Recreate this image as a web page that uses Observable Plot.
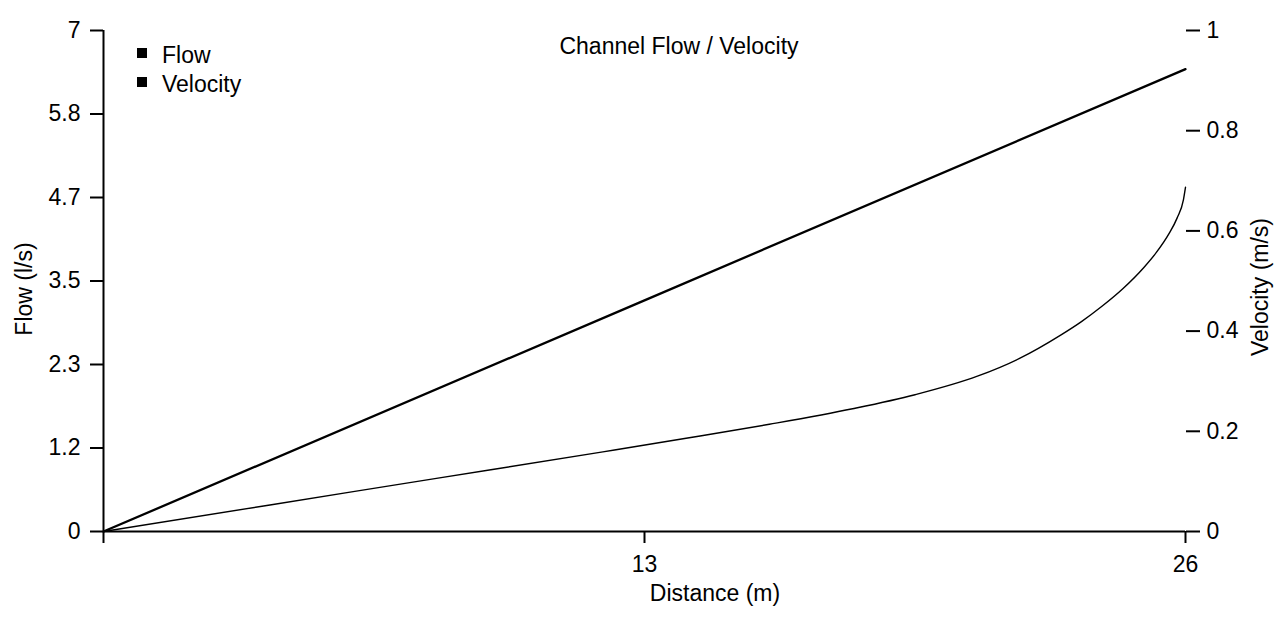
<!DOCTYPE html>
<html><head><meta charset="utf-8">
<script src="https://cdn.jsdelivr.net/npm/d3@7"></script>
<script src="https://cdn.jsdelivr.net/npm/@observablehq/plot@0.6"></script>
<style>
body{margin:0;background:#fff;}
#wrap{position:relative;width:1281px;height:620px;font-family:"Liberation Sans",Arial,sans-serif;color:#000;overflow:hidden;}
.t{position:absolute;font-size:23px;white-space:nowrap;line-height:1;}
.sq{position:absolute;width:10px;height:10px;background:#000;}
</style></head><body>
<div id="wrap"></div>
<script>
// ---- data ----
const flowDistance = [0, 13, 26];
const flow = [0, 3.23, 6.46];
const velDistance = [0, 4, 8, 12, 14, 16, 18, 19.5, 21, 22, 23, 23.5, 24, 24.5, 25, 25.3, 25.6, 25.8, 25.95, 26];
const velocity = [0, 0.053, 0.106, 0.159, 0.186, 0.214, 0.245, 0.273, 0.31, 0.345, 0.392, 0.419, 0.45, 0.485, 0.527, 0.557, 0.594, 0.626, 0.662, 0.687];
const xTicks = [0, 13, 26];
const xTickLabels = ["", "13", "26"];
const flowTickLabels = ["0", "1.2", "2.3", "3.5", "4.7", "5.8", "7"];
const velTicks = [0, 0.2, 0.4, 0.6, 0.8, 1];
const velTickLabels = ["0", "0.2", "0.4", "0.6", "0.8", "1"];
const seriesNames = ["Flow", "Velocity"];
const flowMax = 7, velMax = 1, distMax = 26;

const k = flowMax / velMax;
const flowTicks = flowTickLabels.map((_, i) => i * flowMax / (flowTickLabels.length - 1));
const velTickPos = velTicks.map(v => v * k);
const flowData = flowDistance.map((d, i) => ({d, f: flow[i]}));
const velData = velDistance.map((d, i) => ({d, v: velocity[i]}));

const chart = Plot.plot({
  width: 1281, height: 620,
  marginLeft: 103, marginRight: 96, marginTop: 30, marginBottom: 89,
  style: {fontFamily: '"Liberation Sans", Arial, sans-serif', fontSize: "23px", background: "white", color: "black"},
  x: {domain: [0, distMax]},
  y: {domain: [0, flowMax]},
  marks: [
    Plot.axisX({ticks: xTicks, tickFormat: d => xTickLabels[xTicks.indexOf(d)], tickSize: 12, tickPadding: 12, label: null, strokeWidth: 2}),
    Plot.axisY({anchor: "left", ticks: flowTicks, tickFormat: d => flowTickLabels[flowTicks.indexOf(d)], tickSize: 13, tickPadding: 10, label: null, strokeWidth: 2}),
    Plot.axisY({anchor: "right", ticks: velTickPos, tickFormat: d => velTickLabels[velTickPos.indexOf(d)], tickSize: 14, tickPadding: 7, label: null, strokeWidth: 2}),
    Plot.ruleY([0], {strokeWidth: 2}),
    Plot.ruleX([0], {strokeWidth: 2}),
    Plot.line(flowData, {x: "d", y: "f", stroke: "black", strokeWidth: 2.3}),
    Plot.line(velData, {x: "d", y: r => r.v * k, stroke: "black", strokeWidth: 1.4, curve: "monotone-x"})
  ]
});
const wrap = document.getElementById("wrap");
wrap.appendChild(chart);

function addText(txt, css) {
  const el = document.createElement("div");
  el.className = "t";
  el.textContent = txt;
  Object.assign(el.style, css);
  wrap.appendChild(el);
  return el;
}
addText("Channel Flow / Velocity", {left: "679px", top: "35px", transform: "translateX(-50%)"});
addText("Distance (m)", {left: "715px", top: "582px", transform: "translateX(-50%)"});
addText("Flow (l/s)", {left: "24px", top: "289px", transform: "translate(-50%,-50%) rotate(-90deg)"});
addText("Velocity (m/s)", {left: "1260px", top: "287px", transform: "translate(-50%,-50%) rotate(-90deg)"});
seriesNames.forEach((name, i) => {
  const sq = document.createElement("div");
  sq.className = "sq";
  sq.style.left = "137px";
  sq.style.top = (48 + i * 29) + "px";
  wrap.appendChild(sq);
  addText(name, {left: "162px", top: (44 + i * 29) + "px"});
});
</script>
</body></html>
